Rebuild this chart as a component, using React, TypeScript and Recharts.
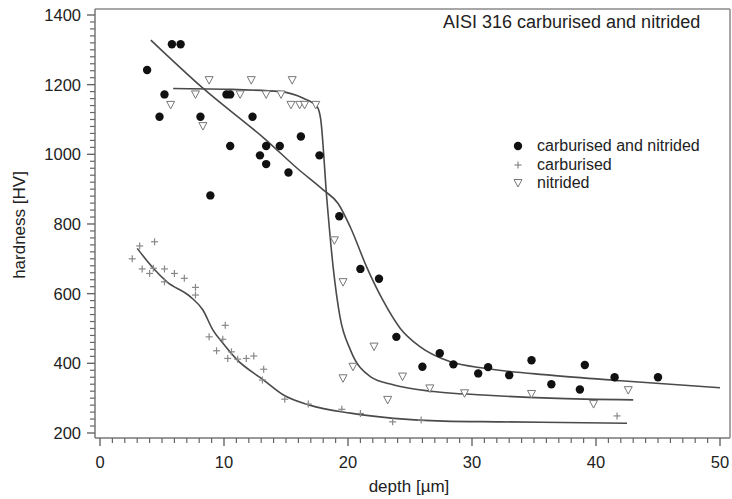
import React from 'react';
import { ComposedChart, Scatter, Line, XAxis, YAxis } from 'recharts';

// ---- data ----
const cnDepth = [3.8, 4.8, 5.2, 5.8, 6.5, 8.1, 8.9, 10.2, 10.5, 10.5, 12.3, 12.9, 13.4, 13.4, 14.5, 15.2, 16.2, 17.7, 19.3, 21.0, 22.5, 23.9, 26.0, 27.4, 28.5, 30.5, 31.3, 33.0, 34.8, 36.4, 39.1, 38.7, 41.5, 45.0];
const cnHardness = [1242, 1108, 1172, 1316, 1316, 1108, 882, 1172, 1172, 1024, 1108, 997, 1024, 972, 1024, 948, 1051, 997, 822, 671, 643, 476, 390, 429, 397, 371, 389, 366, 409, 340, 395, 325, 360, 360];

const cDepth = [2.6, 3.2, 3.4, 4.0, 4.3, 4.4, 5.2, 5.2, 6.0, 6.8, 7.7, 7.7, 8.8, 9.4, 9.9, 10.1, 10.3, 10.6, 11.1, 11.8, 12.4, 13.1, 13.2, 14.9, 16.8, 19.5, 21.0, 23.6, 25.9, 41.7];
const cHardness = [700, 737, 671, 658, 673, 749, 671, 634, 658, 644, 618, 596, 476, 436, 469, 509, 414, 433, 412, 414, 421, 352, 383, 297, 283, 268, 256, 232, 237, 249];

const nDepth = [5.7, 7.7, 8.3, 8.8, 11.3, 12.2, 13.4, 14.6, 15.4, 15.5, 16.1, 16.5, 17.4, 18.9, 19.6, 19.6, 20.4, 22.1, 23.2, 24.4, 26.6, 29.4, 34.8, 39.8, 42.6];
const nHardness = [1142, 1172, 1081, 1213, 1172, 1213, 1172, 1172, 1142, 1213, 1142, 1142, 1142, 753, 633, 357, 390, 448, 295, 362, 328, 314, 312, 283, 323];

const cnFitDepth = [4.1, 8.3, 13.4, 15.9, 18.0, 19.2, 20.2, 21.5, 22.8, 24.2, 25.8, 28.2, 31.2, 36.3, 42.0, 50.0];
const cnFitHardness = [1328, 1190, 1041, 960, 898, 859, 790, 677, 582, 501, 448, 405, 385, 366, 350, 330];

const nFitDepth = [5.9, 10.0, 14.5, 16.4, 17.5, 17.8, 18.3, 18.8, 19.35, 20.2, 21.8, 23.7, 26.9, 30.9, 36.3, 43.0];
const nFitHardness = [1189, 1187, 1180, 1161, 1137, 1100, 869, 677, 534, 438, 362, 338, 319, 309, 300, 295];

const cFitDepth = [3.0, 4.3, 5.4, 7.3, 8.3, 9.1, 9.9, 11.0, 13.2, 14.8, 16.9, 20.2, 23.7, 27.7, 32.3, 42.5];
const cFitHardness = [730, 673, 634, 591, 553, 496, 458, 412, 352, 309, 280, 257, 242, 234, 232, 228];

const xMajorTicks = [0, 10, 20, 30, 40, 50];
const yMajorTicks = [200, 400, 600, 800, 1000, 1200, 1400];
const xAllTicks = Array.from({ length: 51 }, (_, i) => i);
const yAllTicks = Array.from({ length: 61 }, (_, i) => 200 + i * 20);

const title = 'AISI 316 carburised and nitrided';
const legendLabels = ['carburised and nitrided', 'carburised', 'nitrided'];
const xTitle = 'depth [µm]';
const yTitle = 'hardness [HV]';

const zip = (xs: number[], ys: number[]) => xs.map((x, i) => ({ x, y: ys[i] }));
const cnData = zip(cnDepth, cnHardness);
const cData = zip(cDepth, cHardness);
const nData = zip(nDepth, nHardness);
const cnFit = zip(cnFitDepth, cnFitHardness);
const nFit = zip(nFitDepth, nFitHardness);
const cFit = zip(cFitDepth, cFitHardness);

const FONT = 'Liberation Sans, Arial, Helvetica, sans-serif';
const AXIS = '#777';
const TEXT = '#222';
const LINE = '#4a4a4a';

const Circle = (p: any) => <circle cx={p.cx} cy={p.cy} r={4.2} fill="#111" />;
const Tri = (p: any) => (
  <path d={`M${p.cx - 4},${p.cy - 3.5}L${p.cx + 4},${p.cy - 3.5}L${p.cx},${p.cy + 4}Z`} fill="#fff" stroke="#777" strokeWidth={1} />
);
const Plus = (p: any) => (
  <g stroke="#888" strokeWidth={1.2}>
    <line x1={p.cx - 3.5} y1={p.cy} x2={p.cx + 3.5} y2={p.cy} />
    <line x1={p.cx} y1={p.cy - 3.5} x2={p.cx} y2={p.cy + 3.5} />
  </g>
);

const XTick = (p: any) => {
  const v = p.payload.value;
  const major = xMajorTicks.includes(v);
  return (
    <g>
      <line x1={p.x} y1={p.y} x2={p.x} y2={p.y + (major ? 8 : 5)} stroke="#666" strokeWidth={major ? 1.4 : 1.2} />
      {major && (
        <text x={p.x} y={p.y + 30} textAnchor="middle" fontSize={16.5} fontFamily={FONT} fill={TEXT}>
          {v}
        </text>
      )}
    </g>
  );
};

const YTick = (p: any) => {
  const v = p.payload.value;
  const major = yMajorTicks.includes(v);
  return (
    <g>
      <line x1={p.x} y1={p.y} x2={p.x - (major ? 8 : 5)} y2={p.y} stroke="#666" strokeWidth={major ? 1.4 : 1.2} />
      {major && (
        <text x={p.x - 14} y={p.y + 6} textAnchor="end" fontSize={16.5} fontFamily={FONT} fill={TEXT}>
          {v}
        </text>
      )}
    </g>
  );
};

const xDomain = [-0.403, 50.806];
const yDomain = [185.6, 1417.2];

export default function App() {
  const markers = [
    <svg width={12} height={12} key="a"><circle cx={6} cy={6} r={4.2} fill="#111" /></svg>,
    <svg width={12} height={12} key="b"><g stroke="#888" strokeWidth={1.2}><line x1={2.5} y1={6} x2={9.5} y2={6} /><line x1={6} y1={2.5} x2={6} y2={9.5} /></g></svg>,
    <svg width={12} height={12} key="c"><path d="M2,2.5L10,2.5L6,10Z" fill="#fff" stroke="#777" /></svg>,
  ];
  const rowsY = [146, 165, 183];
  return (
    <div style={{ position: 'absolute', left: 0, top: 0, width: 732, height: 499, fontFamily: FONT }}>
      <ComposedChart width={732} height={499} margin={{ top: 8, right: 1, left: 0, bottom: 0 }}>
        <XAxis xAxisId={0} dataKey="x" type="number" domain={xDomain} ticks={xAllTicks} interval={0} height={61} tickSize={0} tickMargin={0} tickLine={false} axisLine={{ stroke: AXIS, strokeWidth: 1.5 }} tick={<XTick />} allowDataOverflow />
        <XAxis xAxisId="top" orientation="top" type="number" domain={xDomain} height={1} tick={false} tickLine={false} axisLine={{ stroke: '#8a8a8a', strokeWidth: 1.5 }} allowDataOverflow />
        <YAxis yAxisId={0} type="number" domain={yDomain} ticks={yAllTicks} interval={0} width={95} tickSize={0} tickMargin={0} tickLine={false} axisLine={{ stroke: AXIS, strokeWidth: 1.5 }} tick={<YTick />} allowDataOverflow />
        <YAxis yAxisId="right" orientation="right" type="number" domain={yDomain} width={1} tick={false} tickLine={false} axisLine={{ stroke: '#8a8a8a', strokeWidth: 1.5 }} allowDataOverflow />
        <Line data={cnFit} dataKey="y" type="monotone" stroke={LINE} strokeWidth={1.6} dot={false} isAnimationActive={false} />
        <Line data={nFit} dataKey="y" type="monotone" stroke={LINE} strokeWidth={1.6} dot={false} isAnimationActive={false} />
        <Line data={cFit} dataKey="y" type="monotone" stroke={LINE} strokeWidth={1.6} dot={false} isAnimationActive={false} />
        <Scatter data={nData} dataKey="y" shape={<Tri />} isAnimationActive={false} />
        <Scatter data={cData} dataKey="y" shape={<Plus />} isAnimationActive={false} />
        <Scatter data={cnData} dataKey="y" shape={<Circle />} isAnimationActive={false} />
      </ComposedChart>
      <div style={{ position: 'absolute', left: 443, top: 12, fontSize: 18, color: TEXT, whiteSpace: 'nowrap', lineHeight: '20px' }}>{title}</div>
      {legendLabels.map((l, i) => (
        <div key={l} style={{ position: 'absolute', left: 512, top: rowsY[i] - 9, height: 18, display: 'flex', alignItems: 'center', whiteSpace: 'nowrap', fontSize: 16, color: TEXT }}>
          {markers[i]}
          <span style={{ marginLeft: 13 }}>{l}</span>
        </div>
      ))}
      <div style={{ position: 'absolute', left: 409, top: 487, transform: 'translate(-50%, -50%)', fontSize: 17, color: TEXT, whiteSpace: 'nowrap' }}>{xTitle}</div>
      <div style={{ position: 'absolute', left: 20, top: 225, transform: 'translate(-50%, -50%) rotate(-90deg)', fontSize: 17, color: TEXT, whiteSpace: 'nowrap' }}>{yTitle}</div>
    </div>
  );
}
